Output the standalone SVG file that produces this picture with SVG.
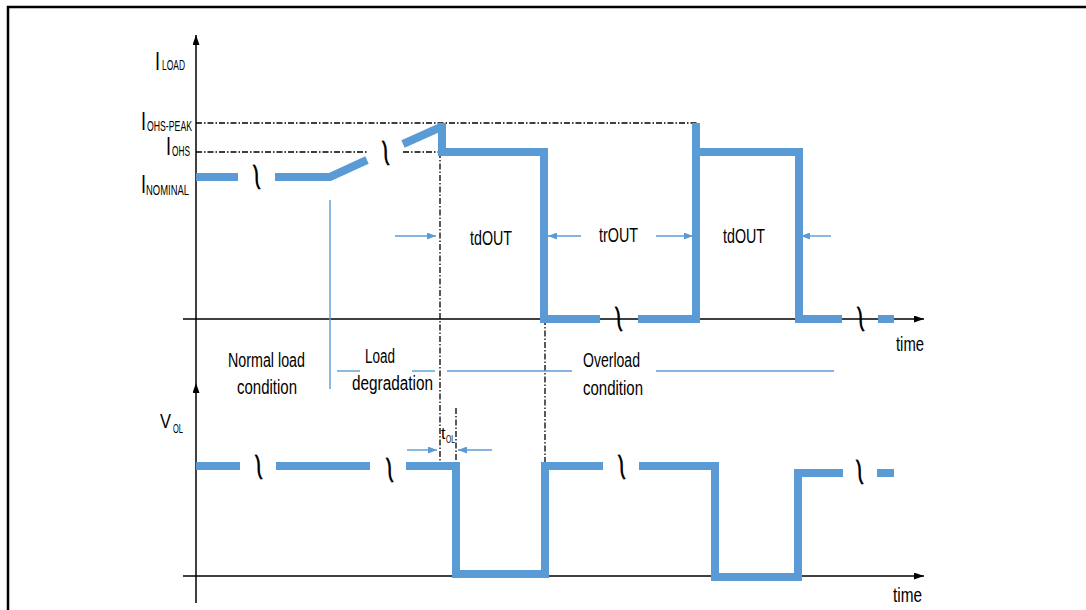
<svg xmlns="http://www.w3.org/2000/svg" width="1086" height="610" viewBox="0 0 1086 610">
<style>
.frame{stroke:#000;stroke-width:2.5;fill:none}
.axis{stroke:#000;stroke-width:1.5;fill:none}
.wave{stroke:#5B9BD5;stroke-width:8;fill:none;stroke-linejoin:miter;stroke-linecap:butt}
.dd{stroke:#000;stroke-width:1.3;fill:none;stroke-dasharray:6 2 1.5 2}
.thin{stroke:#5B9BD5;stroke-width:1.4;fill:none}
text{font-family:"Liberation Sans",Arial,sans-serif;fill:#000}
.lbl{font-size:20px}
.sub{font-size:15px}
.big{font-size:25px}
.brk{font-size:38px;text-anchor:middle}
</style>
<defs>
<marker id="ah" markerUnits="userSpaceOnUse" markerWidth="10" markerHeight="7" refX="10" refY="3.5" orient="auto">
<path d="M0,0 L10,3.5 L0,7 z" fill="#000"/>
</marker>
<marker id="bh" markerUnits="userSpaceOnUse" markerWidth="9" markerHeight="7" refX="9" refY="3.5" orient="auto">
<path d="M0,0 L9,3.5 L0,7 z" fill="#5B9BD5"/>
</marker>
</defs>
<rect width="1086" height="610" fill="#fff"/>
<g id="frame">
<polyline class="frame" points="8,612 8,7 1090,7"/>
</g>
<g id="axes">
<line class="axis" x1="196" y1="383" x2="196" y2="35" marker-end="url(#ah)"/>
<line class="axis" x1="196" y1="603" x2="196" y2="383" marker-end="url(#ah)"/>
<line class="axis" x1="183" y1="319" x2="924" y2="319" marker-end="url(#ah)"/>
<line class="axis" x1="183" y1="576" x2="924" y2="576" marker-end="url(#ah)"/>
</g>
<g id="guides">
<line class="dd" x1="196" y1="123" x2="697" y2="123"/>
<line class="dd" x1="196" y1="152" x2="367" y2="152"/>
<line class="dd" x1="403" y1="152" x2="447" y2="152"/>
<line class="dd" x1="440" y1="152" x2="440" y2="462"/>
<line class="dd" x1="545" y1="319" x2="545" y2="466"/>
<line class="dd" x1="456" y1="408" x2="456" y2="470"/>
</g>
<g id="region-lines">
<line class="thin" x1="330" y1="200" x2="330" y2="389"/>
<line class="thin" x1="337" y1="371" x2="360" y2="371"/>
<line class="thin" x1="412" y1="371" x2="435" y2="371"/>
<line class="thin" x1="447" y1="371" x2="572" y2="371"/>
<line class="thin" x1="656" y1="371" x2="834" y2="371"/>
</g>
<g id="iload-waveform">
<line class="wave" x1="196" y1="177" x2="238" y2="177"/>
<polyline class="wave" points="275,177 330,177 367,160"/>
<line class="wave" x1="403" y1="144" x2="441" y2="127"/>
<line class="wave" x1="442" y1="123" x2="442" y2="156"/>
<polyline class="wave" points="442,152 544,152 544,323"/>
<line class="wave" x1="544" y1="319" x2="600" y2="319"/>
<line class="wave" x1="638" y1="319" x2="700" y2="319"/>
<line class="wave" x1="696" y1="323" x2="696" y2="123"/>
<polyline class="wave" points="696,152 799,152 799,323"/>
<line class="wave" x1="799" y1="319" x2="842" y2="319"/>
<line class="wave" x1="878" y1="319" x2="894" y2="319"/>
</g>
<g id="vol-waveform">
<line class="wave" x1="196" y1="466" x2="240" y2="466"/>
<line class="wave" x1="276" y1="466" x2="370" y2="466"/>
<polyline class="wave" points="406,466 456,466 456,574 545,574 545,466 603,466"/>
<polyline class="wave" points="639,466 715,466 715,577 798,577 798,473 843,473"/>
<line class="wave" x1="877" y1="473" x2="894" y2="473"/>
</g>
<g id="breaks">
<text class="brk" transform="translate(256,177) rotate(78) scale(1.35,0.85)" x="0" y="12">~</text>
<text class="brk" transform="translate(385,153) rotate(78) scale(1.35,0.85)" x="0" y="12">~</text>
<text class="brk" transform="translate(618,319) rotate(78) scale(1.35,0.85)" x="0" y="12">~</text>
<text class="brk" transform="translate(860,319) rotate(78) scale(1.35,0.85)" x="0" y="12">~</text>
<text class="brk" transform="translate(258,467) rotate(78) scale(1.35,0.85)" x="0" y="12">~</text>
<text class="brk" transform="translate(389,470) rotate(78) scale(1.35,0.85)" x="0" y="12">~</text>
<text class="brk" transform="translate(621,467) rotate(78) scale(1.35,0.85)" x="0" y="12">~</text>
<text class="brk" transform="translate(859,472) rotate(78) scale(1.35,0.85)" x="0" y="12">~</text>
</g>
<g id="timing-arrows">
<line class="thin" x1="395" y1="236" x2="436" y2="236" marker-end="url(#bh)"/>
<line class="thin" x1="581" y1="236" x2="548" y2="236" marker-end="url(#bh)"/>
<line class="thin" x1="656" y1="236" x2="693" y2="236" marker-end="url(#bh)"/>
<line class="thin" x1="831" y1="236" x2="801" y2="236" marker-end="url(#bh)"/>
<line class="thin" x1="407" y1="450" x2="437" y2="450" marker-end="url(#bh)"/>
<line class="thin" x1="492" y1="450" x2="458" y2="450" marker-end="url(#bh)"/>
</g>
<g id="axis-labels">
<text class="big" x="155" y="70" textLength="5" lengthAdjust="spacingAndGlyphs">I</text>
<text class="sub" x="162" y="70" textLength="23" lengthAdjust="spacingAndGlyphs">LOAD</text>
<text class="big" x="141" y="130" textLength="5" lengthAdjust="spacingAndGlyphs">I</text>
<text class="sub" x="147" y="131" textLength="45" lengthAdjust="spacingAndGlyphs">OHS-PEAK</text>
<text class="big" x="166" y="155" textLength="5" lengthAdjust="spacingAndGlyphs">I</text>
<text class="sub" x="172" y="156" textLength="18" lengthAdjust="spacingAndGlyphs">OHS</text>
<text class="big" x="141" y="193" textLength="5" lengthAdjust="spacingAndGlyphs">I</text>
<text class="sub" x="146" y="195" textLength="43" lengthAdjust="spacingAndGlyphs">NOMINAL</text>
<text class="lbl" x="160" y="428" textLength="11" lengthAdjust="spacingAndGlyphs">V</text>
<text style="font-size:12px" x="173" y="433" textLength="10" lengthAdjust="spacingAndGlyphs">OL</text>
<text style="font-size:16px" x="441" y="439">t</text>
<text style="font-size:11px" x="446" y="443" textLength="9" lengthAdjust="spacingAndGlyphs">OL</text>
<text class="lbl" x="896" y="351" textLength="28" lengthAdjust="spacingAndGlyphs">time</text>
<text class="lbl" x="893" y="602" textLength="29" lengthAdjust="spacingAndGlyphs">time</text>
</g>
<g id="phase-labels">
<text class="lbl" x="228" y="367" textLength="77" lengthAdjust="spacingAndGlyphs">Normal load</text>
<text class="lbl" x="237" y="394" textLength="60" lengthAdjust="spacingAndGlyphs">condition</text>
<text class="lbl" x="365" y="363" textLength="30" lengthAdjust="spacingAndGlyphs">Load</text>
<text class="lbl" x="352" y="390" textLength="81" lengthAdjust="spacingAndGlyphs">degradation</text>
<text class="lbl" x="583" y="367" textLength="57" lengthAdjust="spacingAndGlyphs">Overload</text>
<text class="lbl" x="583" y="395" textLength="60" lengthAdjust="spacingAndGlyphs">condition</text>
<text style="font-size:21px" x="470" y="245" textLength="42" lengthAdjust="spacingAndGlyphs">tdOUT</text>
<text style="font-size:21px" x="599" y="242" textLength="39" lengthAdjust="spacingAndGlyphs">trOUT</text>
<text style="font-size:21px" x="723" y="243" textLength="42" lengthAdjust="spacingAndGlyphs">tdOUT</text>
</g>
</svg>
